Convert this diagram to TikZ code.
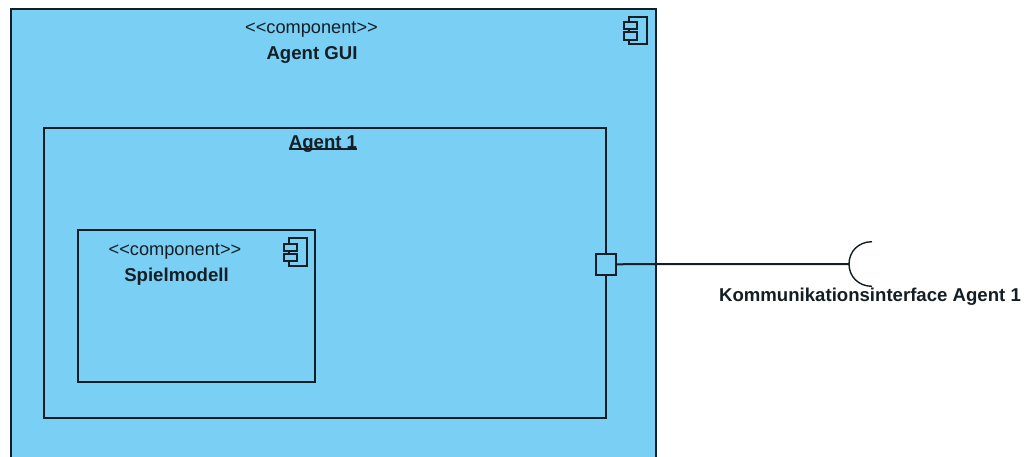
\documentclass[tikz,border=0pt]{standalone}
\usepackage{fontspec}
\setmainfont{Liberation Sans}
\definecolor{compblue}{RGB}{122,207,245}
\definecolor{inkline}{RGB}{20,30,36}
\tikzset{
  px/.style={x=1pt,y=-1pt},
  boxline/.style={draw=inkline,line width=2pt},
  frame/.style={boxline,anchor=north west,inner sep=0pt,outer sep=0pt},
  stereo/.style={font=\fontsize{18.2}{20}\selectfont,text=inkline,inner sep=0pt},
  title/.style={font=\fontsize{18.6}{20}\selectfont\bfseries,text=inkline,inner sep=0pt},
  icon/.style={draw=inkline,line width=1.8pt},
}
\begin{document}
\begin{tikzpicture}[px]
\useasboundingbox (0,0) rectangle (1025,456);
\clip (0,0) rectangle (1025,456);
\fill[white] (0,0) rectangle (1025,456);
% boxes
\node[frame,fill=compblue,minimum width=645pt,minimum height=480pt] (gui) at (10.5,9) {};
\node[frame,minimum width=562pt,minimum height=290pt] (agent) at (44,127.5) {};
\node[frame,minimum width=237pt,minimum height=152pt] (spiel) at (78,230) {};
\node[frame,fill=compblue,minimum width=20.5pt,minimum height=20.5pt] (port) at (595.5,254) {};
% texts
\node[stereo] (guistereo) at (311.5,29.5) {<{}<component>{}>};
\node[title] (guititle) at (312,55) {Agent GUI};
\node[title] (agenttitle) at (323,144) {Agent 1};
\draw[draw=inkline,line width=1.5pt] ([yshift=3.5pt]agenttitle.south west) -- ([yshift=3.5pt]agenttitle.south east);
\node[stereo] (spielstereo) at (175,251) {<{}<component>{}>};
\node[title] (spieltitle) at (176.5,276.5) {Spielmodell};
\node[title] (ifacetitle) at (870,297) {Kommunikationsinterface Agent 1};
% component icons
\draw[icon] (629,22.3) -- (629,16.7) -- (646.7,16.7) -- (646.7,44.3) -- (629,44.3) -- (629,40);
\draw[icon] (629,29.3) -- (629,32.3);
\draw[icon] (624.3,22.3) rectangle (637,29.3);
\draw[icon] (624.3,32.3) rectangle (637,40);
\draw[icon] (289.3,244) -- (289.3,238.3) -- (306.7,238.3) -- (306.7,266.3) -- (289.3,266.3) -- (289.3,260.7);
\draw[icon] (289.3,250.7) -- (289.3,254);
\draw[icon] (284,244) rectangle (296.7,250.7);
\draw[icon] (284,254) rectangle (296.7,260.7);
% required interface
\coordinate (socket) at (849,264);
\draw[boxline] (port.east) -- (socket);
\draw[draw=inkline,line width=1.4pt] (872,241.7) .. controls (858,241.7) and (849,252) .. (socket) .. controls (849,276) and (858,286.3) .. (872,286.3);
\end{tikzpicture}
\end{document}
